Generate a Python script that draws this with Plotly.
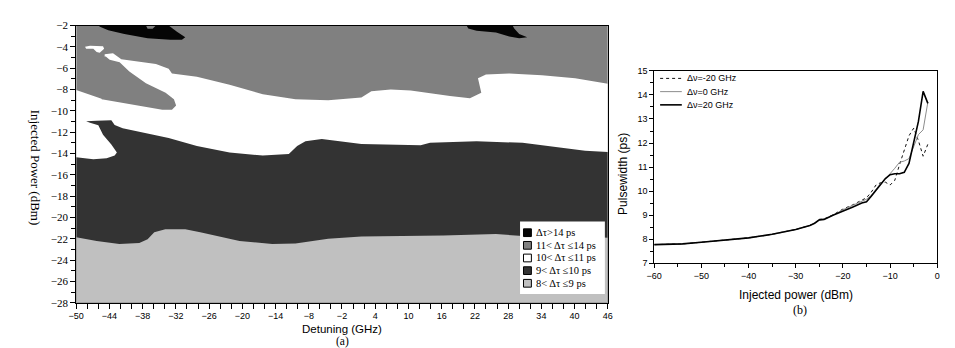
import plotly.graph_objects as go

# ---------------- Panel (a): regime map (boundaries) ----------------
DET_RANGE = [-50, 46]
POW_RANGE = [-28, -2]

# boundary between 8<dt<=9 (below) and 9<dt<=10 (above)
edge_9_x = [-50, -46.3, -42.2, -38.6, -37.1, -35.9, -33.9, -30.3, -27.6, -20.5, -14.6, -10.4,
            -4.5, 1.5, 10.4, 16.3, 25.8, 30.6, 40.1, 46]
edge_9_y = [-21.85, -22.2, -22.5, -22.4, -22.05, -21.4, -21.1, -21.1, -21.4, -22.2, -22.5, -22.45,
            -22.0, -21.8, -21.75, -21.7, -21.55, -21.75, -21.75, -21.9]

# boundary between 9<dt<=10 (below) and 10<dt<=11 (above), incl. the sliver / pocket at left
edge_10_x = [-50, -46.9, -44.5, -43.05, -42.65, -43.65, -45.15, -46.0, -47.5, -48.2, -46.3, -43.65,
             -43.05, -41.6, -36.2, -33.3, -28.2, -22.3, -16.3, -11.6, -10.1, -8.6, -5.65, 1.5,
             12.2, 13.9, 22.3, 30.6, 41.9, 46]
edge_10_y = [-14.35, -14.55, -14.45, -14.2, -13.9, -13.15, -12.25, -11.35, -11.12, -10.97, -10.94, -10.88,
             -11.33, -11.63, -12.25, -12.55, -13.3, -13.9, -14.2, -14.05, -13.3, -12.85, -12.63, -13.1,
             -13.23, -13.0, -12.85, -13.0, -13.75, -13.85]

# boundary between 10<dt<=11 (below) and 11<dt<=14 (above)
edge_11_x = [-50, -45.15, -44.85, -43.35, -41.85, -39.2, -35.6, -33.3, -32.7, -28.2, -22.3, -16.3,
             -10.4, -4.5, 1.5, 3.3, 6.8, 10.4, 17.5, 21.1, 23.15, 22.55, 24.0, 28.2, 34.1, 40.1, 46]
edge_11_y = [-8.05, -8.9, -4.7, -4.6, -5.15, -5.3, -5.6, -6.05, -6.5, -6.8, -7.55, -8.45,
             -8.9, -9.0, -8.75, -8.15, -8.0, -8.1, -8.6, -8.82, -8.3, -6.95, -6.6, -6.5, -6.65, -6.95, -7.45]

# 11<dt<=14 tongue reaching into the white band (left)
tongue_x = [-45.4, -39.2, -34.45, -32.7, -31.95, -32.35, -33.85, -37.4, -40.4, -42.15, -43.95, -44.65, -45.4]
tongue_y = [-8.9, -9.5, -9.9, -9.9, -9.5, -8.9, -8.3, -7.4, -6.3, -5.45, -5.2, -4.9, -4.9]

# 10<dt<=11 island (top-left)
island_x = [-48.4, -47.5, -45.15, -44.95, -45.75, -46.3, -46.9, -48.2]
island_y = [-3.98, -3.88, -3.93, -4.17, -4.55, -4.47, -4.17, -4.17]

# dt>14 patches at the top
blob1_x = [-46.0, -37.4, -37.1, -36.2, -35.6, -33.3, -31.8, -30.3, -30.9, -33.0, -37.1, -41.3, -44.2, -45.7]
blob1_y = [-2.0, -2.0, -2.3, -2.3, -2.0, -2.0, -2.57, -3.09, -3.33, -3.33, -3.18, -2.79, -2.43, -2.12]
blob2_x = [20.5, 28.8, 29.1, 30.0, 31.45, 30.0, 28.2, 25.8, 22.3, 20.8]
blob2_y = [-2.0, -2.0, -2.27, -2.79, -3.09, -3.18, -3.03, -2.66, -2.48, -2.27]

region_names = ["\u0394\u03c4>14 ps", "11< \u0394\u03c4 \u226414 ps", "10< \u0394\u03c4 \u226411 ps",
                "9< \u0394\u03c4 \u226410 ps", "8< \u0394\u03c4 \u22649 ps"]
region_colors = ["#050505", "#808080", "#ffffff", "#333333", "#c0c0c0"]

# ---------------- Panel (b): pulsewidth vs injected power ----------------
power_dbm = [-60, -55, -54, -50, -45, -40, -35, -30, -27, -26, -25, -24, -22, -20, -18, -16,
             -15, -14, -13, -12, -11, -10, -9, -8, -7, -6, -5, -4, -3, -2]
pw_m20 = [7.77, 7.79, 7.80, 7.87, 7.95, 8.05, 8.20, 8.40, 8.57, 8.66, 8.82, 8.84, 9.02, 9.25, 9.42, 9.60,
          9.72, 9.95, 10.25, 10.35, 10.37, 10.25, 10.45, 11.10, 11.75, 12.30, 12.62, 12.10, 11.45, 11.95]
pw_0 = [7.77, 7.79, 7.80, 7.87, 7.95, 8.05, 8.20, 8.40, 8.57, 8.66, 8.80, 8.82, 9.00, 9.22, 9.40, 9.57,
        9.66, 9.82, 10.08, 10.32, 10.50, 10.75, 10.95, 11.20, 11.25, 11.35, 11.85, 12.35, 12.55, 13.70]
pw_20 = [7.77, 7.79, 7.80, 7.87, 7.95, 8.05, 8.20, 8.40, 8.57, 8.66, 8.80, 8.82, 9.00, 9.18, 9.33, 9.50,
         9.55, 9.78, 10.02, 10.28, 10.52, 10.68, 10.72, 10.72, 10.78, 11.15, 12.00, 12.90, 14.15, 13.65]
series_names = ["\u0394\u03bd=-20 GHz", "\u0394\u03bd=0 GHz", "\u0394\u03bd=20 GHz"]
series_styles = [dict(color="#111111", width=1, dash="dot"),
                 dict(color="#8c8c8c", width=1),
                 dict(color="#000000", width=1.6)]

fig = go.Figure()


def add_poly(xs, ys, color):
    fig.add_trace(go.Scatter(x=xs, y=ys, fill="toself", fillcolor=color, mode="lines",
                             line=dict(width=0, color=color), hoverinfo="skip",
                             showlegend=False, xaxis="x", yaxis="y"))


lo, hi = POW_RANGE
L, R = DET_RANGE
# 11<dt<=14 everywhere, then lower regimes painted over it
add_poly([L, R, R, L], [lo, lo, hi, hi], region_colors[1])
add_poly([L, R] + edge_11_x[::-1], [lo, lo] + edge_11_y[::-1], region_colors[2])
add_poly([L, R] + edge_10_x[::-1], [lo, lo] + edge_10_y[::-1], region_colors[3])
add_poly([L, R] + edge_9_x[::-1], [lo, lo] + edge_9_y[::-1], region_colors[4])
add_poly(tongue_x, tongue_y, region_colors[1])
add_poly(island_x, island_y, region_colors[2])
add_poly(blob1_x, blob1_y, region_colors[0])
add_poly(blob2_x, blob2_y, region_colors[0])

for name, ys, st in zip(series_names, [pw_m20, pw_0, pw_20], series_styles):
    fig.add_trace(go.Scatter(x=power_dbm, y=ys, mode="lines", name=name, line=st,
                             xaxis="x2", yaxis="y2", showlegend=False))

W, H = 955, 348
def px(x):
    return x / W
def py(y):
    return 1 - y / H

ax_common = dict(showgrid=False, zeroline=False, showline=True, linecolor="#000000",
                 linewidth=1, mirror=True, ticks="outside", tickcolor="#000000")

SERIF = "Liberation Serif, Times New Roman, serif"
SANS = "Liberation Sans, Arial, sans-serif"

fig.update_layout(
    width=W, height=H, margin=dict(l=0, r=0, t=0, b=0), showlegend=False,
    paper_bgcolor="white", plot_bgcolor="white",
    xaxis=dict(domain=[px(61), px(600)], range=DET_RANGE, anchor="y",
               tick0=-50, dtick=6, ticklen=5,
               minor=dict(dtick=2, ticks="outside", ticklen=5, tickcolor="#000000"),
               tickfont=dict(family=SANS, size=9, color="#000"), **ax_common),
    yaxis=dict(domain=[py(299), py(12)], range=POW_RANGE, anchor="x",
               tick0=-28, dtick=2, ticklen=5,
               minor=dict(dtick=1, ticks="outside", ticklen=4, tickcolor="#000000"),
               tickfont=dict(family=SERIF, size=11, color="#000"), **ax_common),
    xaxis2=dict(domain=[px(647), px(934)], range=[-60, 0], anchor="y2",
                dtick=10, ticklen=4,
                minor=dict(dtick=5, ticks="outside", ticklen=3, tickcolor="#000000"),
                tickfont=dict(family=SANS, size=9, color="#000"), **ax_common),
    yaxis2=dict(domain=[py(258), py(59)], range=[7, 15], anchor="x2",
                dtick=1, ticklen=4,
                minor=dict(dtick=0.5, ticks="outside", ticklen=3, tickcolor="#000000"),
                tickfont=dict(family=SANS, size=9, color="#000"), **ax_common),
)

# ---- legend of panel (a): white box, square keys, serif labels ----
LEG_A_BOX = (511, 215, 597, 290)
LEG_A_ROW0, LEG_A_STEP = 226.5, 13.1
fig.add_shape(type="rect", xref="paper", yref="paper", x0=px(LEG_A_BOX[0]), x1=px(LEG_A_BOX[2]),
              y0=py(LEG_A_BOX[3]), y1=py(LEG_A_BOX[1]), fillcolor="white", line=dict(width=0))
for i, (name, col) in enumerate(zip(region_names, region_colors)):
    yc = LEG_A_ROW0 + i * LEG_A_STEP
    fig.add_shape(type="rect", xref="paper", yref="paper", x0=px(514.5), x1=px(522.5),
                  y0=py(yc + 4), y1=py(yc - 4), fillcolor=col, line=dict(color="#000", width=1))
    fig.add_annotation(xref="paper", yref="paper", x=px(525), y=py(yc), text=name, showarrow=False,
                       xanchor="left", yanchor="middle", font=dict(family=SERIF, size=10.5, color="#000"))

# ---- legend of panel (b): line keys, sans labels ----
LEG_B_ROW0, LEG_B_STEP = 66.7, 13.7
for i, (name, st) in enumerate(zip(series_names, series_styles)):
    yc = LEG_B_ROW0 + i * LEG_B_STEP
    fig.add_shape(type="line", xref="paper", yref="paper", x0=px(653), x1=px(675),
                  y0=py(yc), y1=py(yc), line=st)
    fig.add_annotation(xref="paper", yref="paper", x=px(678), y=py(yc), text=name, showarrow=False,
                       xanchor="left", yanchor="middle", font=dict(family=SANS, size=9, color="#000"))

ann_serif = dict(family=SERIF, size=13, color="#000")
ann_sans = dict(family=SANS, size=12, color="#000")
annots = [
    dict(text="Injected Power (dBm)", x=px(20), y=py(159), textangle=90, font=ann_serif),
    dict(text="Detuning (GHz)", x=px(331), y=py(326), font=dict(ann_sans, size=11.5)),
    dict(text="(a)", x=px(331), y=py(339.5), font=dict(ann_serif, size=11.5)),
    dict(text="Pulsewidth (ps)", x=px(616), y=py(166), textangle=-90, font=ann_sans),
    dict(text="Injected power (dBm)", x=px(791), y=py(291), font=ann_sans),
    dict(text="(b)", x=px(795), y=py(307), font=dict(ann_serif, size=12)),
]
for a in annots:
    fig.add_annotation(xref="paper", yref="paper", showarrow=False, borderpad=0,
                       xanchor="center", yanchor="middle", **a)

fig.write_html("out.html")
